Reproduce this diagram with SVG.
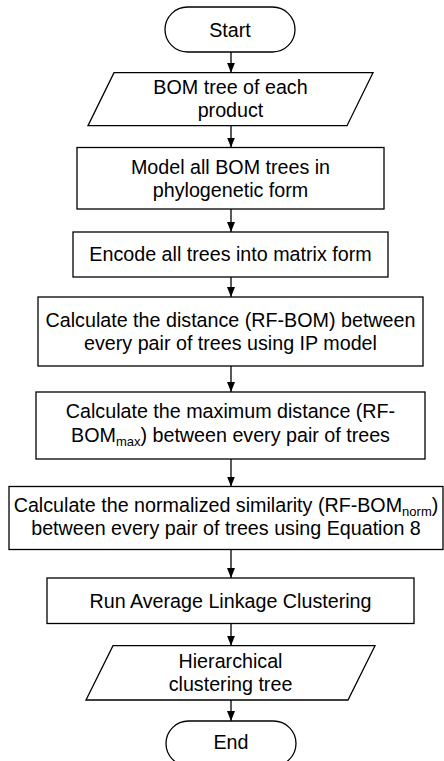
<svg xmlns="http://www.w3.org/2000/svg" width="444" height="761" viewBox="0 0 444 761">
<style>
.s{fill:#fff;stroke:#000;stroke-width:1.3}
.t{font-family:"Liberation Sans",Arial,sans-serif;font-size:19.7px;fill:#000;text-anchor:middle}
.sub{font-size:13px}
.c{stroke:#000;stroke-width:1.3;fill:none}
</style>
<defs>
<marker id="a" markerUnits="userSpaceOnUse" markerWidth="10" markerHeight="8" refX="10" refY="4" orient="auto">
<path d="M0,0 L10,4 L0,8 z" fill="#000"/>
</marker>
</defs>
<rect width="444" height="761" fill="#fff"/>
<g id="connectors">
<line class="c" x1="231" y1="52" x2="231" y2="72.7" marker-end="url(#a)"/>
<line class="c" x1="231" y1="125.7" x2="231" y2="147.5" marker-end="url(#a)"/>
<line class="c" x1="231" y1="209" x2="231" y2="232" marker-end="url(#a)"/>
<line class="c" x1="231" y1="277" x2="231" y2="297" marker-end="url(#a)"/>
<line class="c" x1="231" y1="366" x2="231" y2="392" marker-end="url(#a)"/>
<line class="c" x1="231" y1="459" x2="231" y2="486.5" marker-end="url(#a)"/>
<line class="c" x1="231" y1="549.5" x2="231" y2="578" marker-end="url(#a)"/>
<line class="c" x1="231" y1="623.5" x2="231" y2="645.7" marker-end="url(#a)"/>
<line class="c" x1="231" y1="700" x2="231" y2="721" marker-end="url(#a)"/>
</g>
<g id="start">
<rect class="s" x="165" y="7" width="130" height="45" rx="22.5"/>
<text class="t" x="230" y="36.5">Start</text>
</g>
<g id="bom-input">
<polygon class="s" points="114,72.7 373,72.7 347,125.7 88,125.7"/>
<text class="t" x="230.5" y="93.5">BOM tree of each</text>
<text class="t" x="230.5" y="116.8">product</text>
</g>
<g id="model">
<rect class="s" x="77" y="147.5" width="307" height="61.5"/>
<text class="t" x="230.5" y="173.8">Model all BOM trees in</text>
<text class="t" x="230.5" y="197">phylogenetic form</text>
</g>
<g id="encode">
<rect class="s" x="73" y="232" width="315" height="45"/>
<text class="t" x="230.5" y="261">Encode all trees into matrix form</text>
</g>
<g id="distance">
<rect class="s" x="38" y="297" width="385" height="69"/>
<text class="t" x="230.5" y="326.7">Calculate the distance (RF-BOM) between</text>
<text class="t" x="230.5" y="350">every pair of trees using IP model</text>
</g>
<g id="maxdist">
<rect class="s" x="36" y="392" width="389" height="67"/>
<text class="t" x="230.5" y="418">Calculate the maximum distance (RF-</text>
<text class="t" x="230.5" y="441.5">BOM<tspan class="sub" dy="4">max</tspan><tspan dy="-4">) between every pair of trees</tspan></text>
</g>
<g id="similarity">
<rect class="s" x="9" y="486.5" width="434" height="63"/>
<text class="t" x="226" y="511.5">Calculate the normalized similarity (RF-BOM<tspan class="sub" dy="4">norm</tspan><tspan dy="-4">)</tspan></text>
<text class="t" x="226" y="535">between every pair of trees using Equation 8</text>
</g>
<g id="cluster">
<rect class="s" x="47" y="578" width="367" height="45.5"/>
<text class="t" x="230.5" y="607.5">Run Average Linkage Clustering</text>
</g>
<g id="tree-output">
<polygon class="s" points="113,645.7 375,645.7 348,700 86,700"/>
<text class="t" x="230.5" y="668">Hierarchical</text>
<text class="t" x="230.5" y="691">clustering tree</text>
</g>
<g id="end">
<rect class="s" x="166" y="721" width="130" height="45" rx="22.5"/>
<text class="t" x="231" y="749">End</text>
</g>
</svg>
